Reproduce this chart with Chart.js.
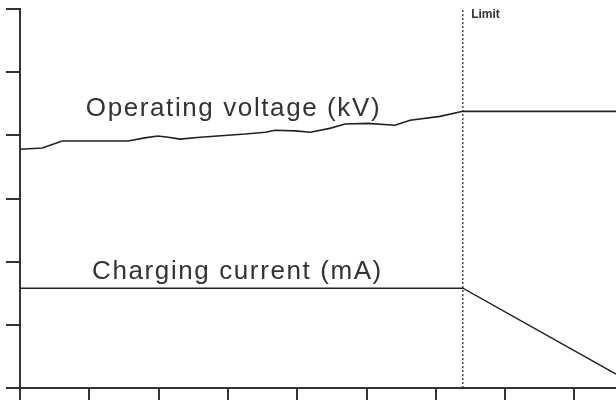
<!DOCTYPE html>
<html lang="en"><head><meta charset="utf-8"><title>Operating voltage / charging current</title>
<script src="https://cdn.jsdelivr.net/npm/chart.js@4"></script>
<style>
  html, body { margin: 0; background: #fff; }
  #wrap { width: 616px; height: 403px; }
</style>
</head><body>
<div id="wrap"><canvas id="c" width="616" height="403"></canvas></div>
<script>
// Axis ticks (unlabelled in the original)
const X_TICKS = [0, 1, 2, 3, 4, 5, 6, 7, 8];
const Y_TICKS = [0, 1, 2, 3, 4, 5, 6];

// Operating voltage
const VOLT_X = [0, 0.32, 0.61, 1.56, 1.80, 1.99, 2.14, 2.31, 2.60, 3.25, 3.54, 3.68, 3.97, 4.19, 4.47, 4.69, 5.02, 5.41, 5.63, 6.06, 6.39, 8.6];
const VOLT_Y = [3.78, 3.80, 3.91, 3.91, 3.96, 3.99, 3.97, 3.94, 3.97, 4.02, 4.05, 4.08, 4.07, 4.05, 4.11, 4.18, 4.19, 4.16, 4.24, 4.30, 4.38, 4.38];

// Charging current: flat until the limit, then falls off
const CURR_X = [0, 6.39, 8.6];
const CURR_Y = [1.58, 1.58, 0.22];

const LIMIT_X = 6.39;

const INK = '#222';
const AXIS = '#333';

// Text placed in data coordinates (left edge, baseline)
const LABEL_FONT = '26px "Liberation Sans", Arial, sans-serif';
const NOTES = [
  { text: 'Operating voltage (kV)', x: 0.95, y: 4.31, font: LABEL_FONT, spacing: '1.6px' },
  { text: 'Charging current (mA)',  x: 1.04, y: 1.73, font: LABEL_FONT, spacing: '1.6px' },
  { text: 'Limit',                  x: 6.51, y: 5.85, font: 'bold 12px "Liberation Sans", Arial, sans-serif', spacing: '0px' },
];

const pts = (xs, ys) => xs.map((x, i) => ({ x, y: ys[i] }));

const notes = {
  id: 'notes',
  afterDatasetsDraw(chart) {
    const { ctx, scales: { x, y } } = chart;
    ctx.save();
    ctx.fillStyle = '#333';
    ctx.textBaseline = 'alphabetic';
    for (const n of NOTES) {
      ctx.font = n.font;
      ctx.letterSpacing = n.spacing;
      ctx.fillText(n.text, x.getPixelForValue(n.x), y.getPixelForValue(n.y));
    }
    ctx.restore();
  },
};

const axis = (ticks, min, max, tickLength) => ({
  type: 'linear', min, max,
  afterBuildTicks: s => { s.ticks = ticks.map(v => ({ value: v })); },
  ticks: { display: false },
  grid: { drawOnChartArea: false, drawTicks: true, tickLength, color: AXIS, lineWidth: 2 },
  border: { display: true, color: AXIS, width: 2 },
});

new Chart(document.getElementById('c'), {
  type: 'line',
  data: {
    datasets: [
      { label: 'Operating voltage (kV)', data: pts(VOLT_X, VOLT_Y), borderColor: INK, borderWidth: 1.6, pointRadius: 0, tension: 0 },
      { label: 'Charging current (mA)', data: pts(CURR_X, CURR_Y), borderColor: INK, borderWidth: 1.4, pointRadius: 0, tension: 0 },
      { label: 'Limit', data: [{ x: LIMIT_X, y: 0 }, { x: LIMIT_X, y: 6 }], borderColor: INK, borderWidth: 1.2, borderDash: [2, 2], pointRadius: 0 },
    ],
  },
  options: {
    responsive: false, animation: false, devicePixelRatio: 1,
    layout: { padding: { left: 6, top: 9, right: 0, bottom: 3 } },
    plugins: { legend: { display: false }, tooltip: { enabled: false } },
    scales: {
      x: axis(X_TICKS, 0, 8.6, 12),
      y: axis(Y_TICKS, 0, 6, 14),
    },
  },
  plugins: [notes],
});
</script>
</body></html>
